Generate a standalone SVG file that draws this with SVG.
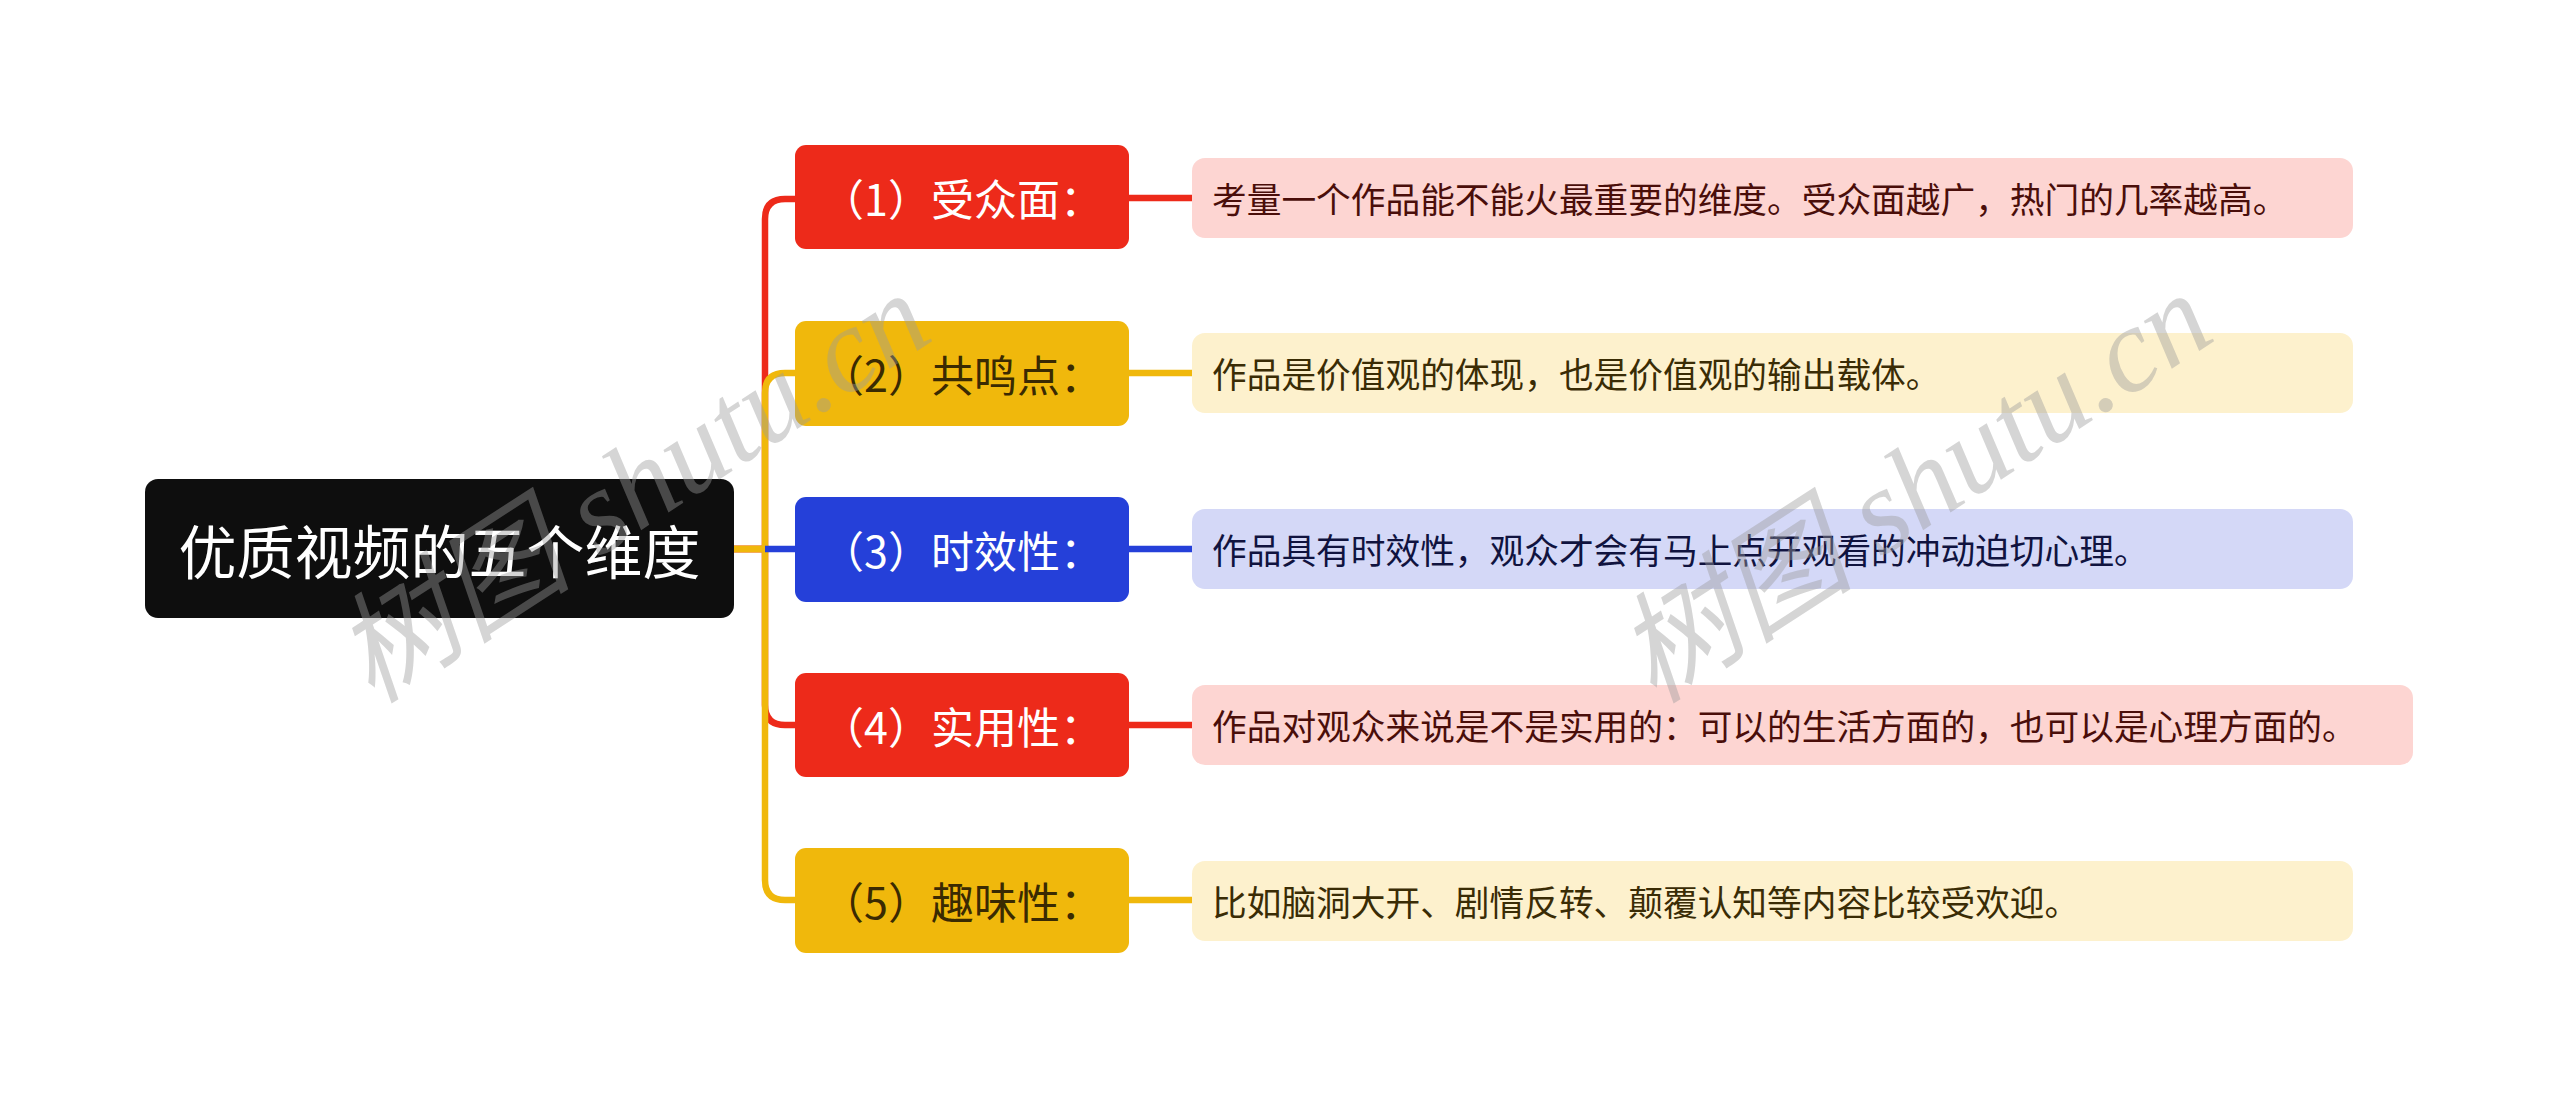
<svg xmlns="http://www.w3.org/2000/svg" width="2560" height="1099" viewBox="0 0 2560 1099">
<style>
.cjk{font-family:"Noto Sans CJK SC","Noto Sans",sans-serif}
.root-t{font-size:58px;fill:#ffffff}
.br-t{font-size:43px}
.lf-t{font-size:34.7px}
.ln{fill:none;stroke-width:6.5;stroke-linecap:butt}
.red{stroke:#ED2A1A}
.yel{stroke:#F0B80C}
.blu{stroke:#2540D9}
.wm{font-family:"Liberation Serif","Noto Sans CJK SC",serif;font-style:italic;font-size:120px;fill:#9a9a9a;fill-opacity:0.42}
</style>
<rect width="2560" height="1099" fill="#ffffff"/>
<g id="connectors">
<path class="ln red" d="M734 549 H765 V219 Q765 199 785 199 H795"/>
<path class="ln red" d="M734 549 H765 V705 Q765 725 785 725 H795"/>
<path class="ln yel" d="M734 549 H765 V393 Q765 373 785 373 H795"/>
<path class="ln yel" d="M734 549 H765 V880 Q765 900 785 900 H795"/>
<path class="ln blu" d="M765 549 H795"/>
<path class="ln red" d="M1129 198 H1193"/>
<path class="ln yel" d="M1129 373 H1193"/>
<path class="ln blu" d="M1129 549 H1193"/>
<path class="ln red" d="M1129 725 H1193"/>
<path class="ln yel" d="M1129 900 H1193"/>
</g>
<g id="root">
<rect x="145" y="479" width="589" height="139" rx="13" fill="#0E0E0E"/>
<text class="cjk root-t" x="439.5" y="549" text-anchor="middle" dominant-baseline="central">优质视频的五个维度</text>
</g>
<g id="branch1">
<rect x="795" y="145" width="334" height="104" rx="11" fill="#ED2A1A"/>
<text class="cjk br-t" x="962" y="197" text-anchor="middle" dominant-baseline="central" fill="#ffffff">（1）受众面：</text>
</g>
<g id="branch2">
<rect x="795" y="321" width="334" height="105" rx="11" fill="#F0B80C"/>
<text class="cjk br-t" x="962" y="373" text-anchor="middle" dominant-baseline="central" fill="#3A2A02">（2）共鸣点：</text>
</g>
<g id="branch3">
<rect x="795" y="497" width="334" height="105" rx="11" fill="#2540D9"/>
<text class="cjk br-t" x="962" y="549" text-anchor="middle" dominant-baseline="central" fill="#ffffff">（3）时效性：</text>
</g>
<g id="branch4">
<rect x="795" y="673" width="334" height="104" rx="11" fill="#ED2A1A"/>
<text class="cjk br-t" x="962" y="725" text-anchor="middle" dominant-baseline="central" fill="#ffffff">（4）实用性：</text>
</g>
<g id="branch5">
<rect x="795" y="848" width="334" height="105" rx="11" fill="#F0B80C"/>
<text class="cjk br-t" x="962" y="900" text-anchor="middle" dominant-baseline="central" fill="#3A2A02">（5）趣味性：</text>
</g>
<g id="leaf1">
<rect x="1192" y="158" width="1161" height="80" rx="13" fill="#FDD5D2"/>
<text class="cjk lf-t" x="1212" y="198" dominant-baseline="central" fill="#4A0E0A">考量一个作品能不能火最重要的维度。受众面越广，热门的几率越高。</text>
</g>
<g id="leaf2">
<rect x="1192" y="333" width="1161" height="80" rx="13" fill="#FDF1CD"/>
<text class="cjk lf-t" x="1212" y="373" dominant-baseline="central" fill="#3A2C05">作品是价值观的体现，也是价值观的输出载体。</text>
</g>
<g id="leaf3">
<rect x="1192" y="509" width="1161" height="80" rx="13" fill="#D4D8F7"/>
<text class="cjk lf-t" x="1212" y="549" dominant-baseline="central" fill="#10133F">作品具有时效性，观众才会有马上点开观看的冲动迫切心理。</text>
</g>
<g id="leaf4">
<rect x="1192" y="685" width="1221" height="80" rx="13" fill="#FDD5D2"/>
<text class="cjk lf-t" x="1212" y="725" dominant-baseline="central" fill="#4A0E0A">作品对观众来说是不是实用的：可以的生活方面的，也可以是心理方面的。</text>
</g>
<g id="leaf5">
<rect x="1192" y="861" width="1161" height="80" rx="13" fill="#FDF1CD"/>
<text class="cjk lf-t" x="1212" y="901" dominant-baseline="central" fill="#3A2C05">比如脑洞大开、剧情反转、颠覆认知等内容比较受欢迎。</text>
</g>
<g id="watermarks">
<text class="wm" transform="translate(372 705) rotate(-33)">树图 shutu.cn</text>
<text class="wm" transform="translate(1654 705) rotate(-33)">树图 shutu.cn</text>
</g>
</svg>
